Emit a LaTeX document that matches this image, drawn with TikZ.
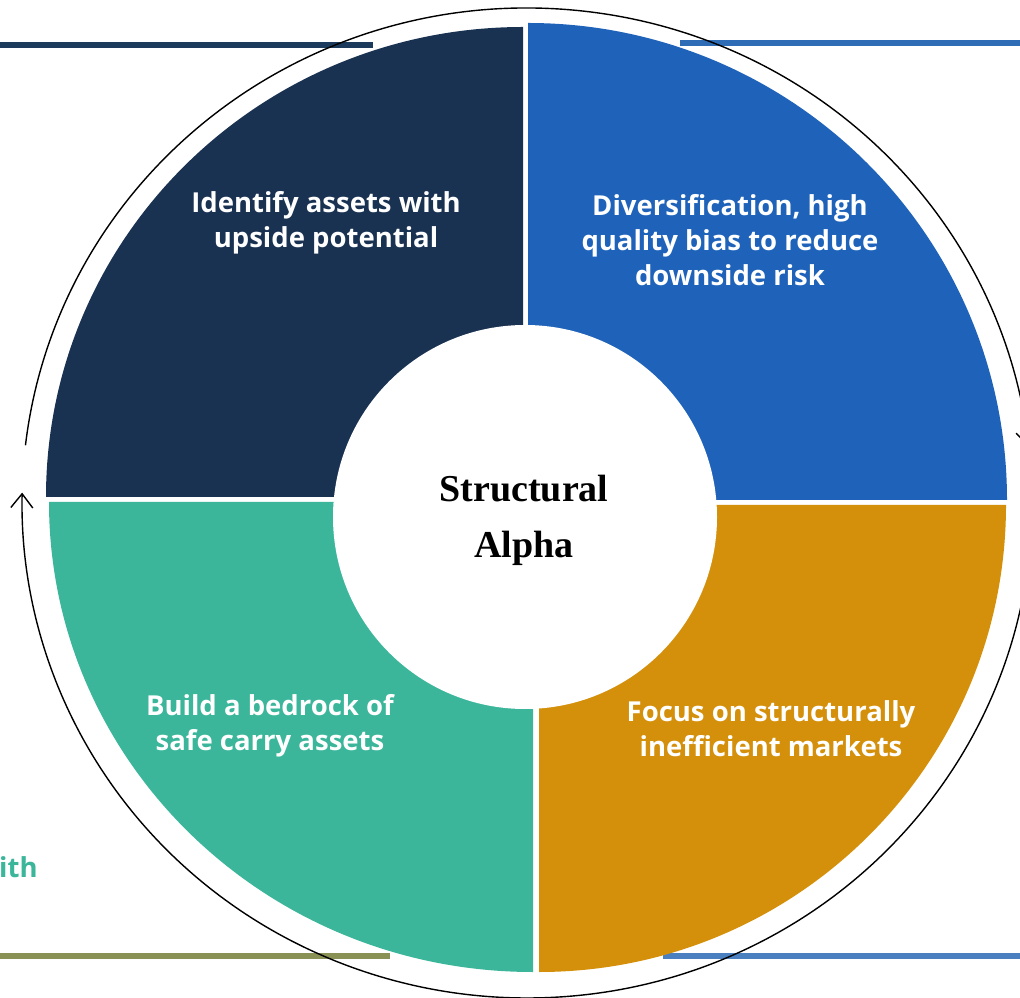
\documentclass[tikz,border=0pt]{standalone}
\usepackage{fontspec}
\setmainfont{Open Sans}
\newfontfamily\centerserif{Liberation Serif}
\usetikzlibrary{arrows.meta}
\definecolor{navyq}{HTML}{1A3252}
\definecolor{blueq}{HTML}{1E63B9}
\definecolor{goldq}{HTML}{D4900B}
\definecolor{tealq}{HTML}{3BB69B}
\definecolor{navyline}{HTML}{1B3A5C}
\definecolor{blueline}{HTML}{2E6DB5}
\definecolor{oliveline}{HTML}{8A9155}
\definecolor{lightblueline}{HTML}{4A80C0}
\begin{document}
\begin{tikzpicture}[x=1pt,y=1pt,
  qtext/.style={text=white, font=\fontsize{27.5}{35}\selectfont\bfseries, align=center, inner sep=0pt},
  ctext/.style={text=black, font=\centerserif\fontsize{38}{56}\selectfont\bfseries, align=center, inner sep=0pt},
  rule/.style={line width=5.5pt},
  outer/.style={line width=1.4pt, draw=black, -{Straight Barb[length=14pt,width=22pt,line width=1.4pt]}}]
\useasboundingbox (0,0) rectangle (1020,997);
\fill[white] (0,0) rectangle (1020,997);
% horizontal rules
\draw[rule, navyline] (0,952) -- (373,952);
\draw[rule, blueline] (680,954) -- (1020,954);
\draw[rule, oliveline] (0,41) -- (390,41);
\draw[rule, lightblueline] (663,41) -- (1020,41);
% quadrants
\fill[navyq] (523,500) -- ++(-477,0) arc[start angle=180, end angle=90, x radius=477, y radius=470] -- cycle;
\fill[blueq] (528,497) -- ++(0,477) arc[start angle=90, end angle=0, x radius=479, y radius=477] -- cycle;
\fill[goldq] (539,492) -- ++(467,0) arc[start angle=0, end angle=-90, x radius=467, y radius=467] -- cycle;
\fill[tealq] (533,495) -- ++(0,-470) arc[start angle=-90, end angle=-180, x radius=484, y radius=470] -- cycle;
% inner circle
\fill[white] (525,480) circle[radius=192];
% outer cycle arrows
\coordinate (oc) at (527,494);
\draw[outer] ([shift={(173.3:505 and 495)}]oc) arc[start angle=173.3, end angle=6.5, x radius=505, y radius=495];
\draw[outer] ([shift={(0.9:505 and 495)}]oc) arc[start angle=0.9, end angle=-181.2, x radius=505, y radius=495];
% texts
\node[qtext] (tl) at (326,774.5) {Identify assets with\\upside potential};
\node[qtext] (tr) at (730,757) {Diversification, high\\quality bias to reduce\\downside risk};
\node[qtext] (bl) at (270,271.5) {Build a bedrock of\\safe carry assets};
\node[qtext] (br) at (771,268) {Focus on structurally\\inefficient markets};
\node[ctext] (ctr) at (524,477) {Structural\\Alpha};
\node[anchor=base west, inner sep=0pt, text=tealq, font=\fontsize{27.5}{30}\selectfont\bfseries] (ith) at (-1,120) {ith};
\end{tikzpicture}
\end{document}
